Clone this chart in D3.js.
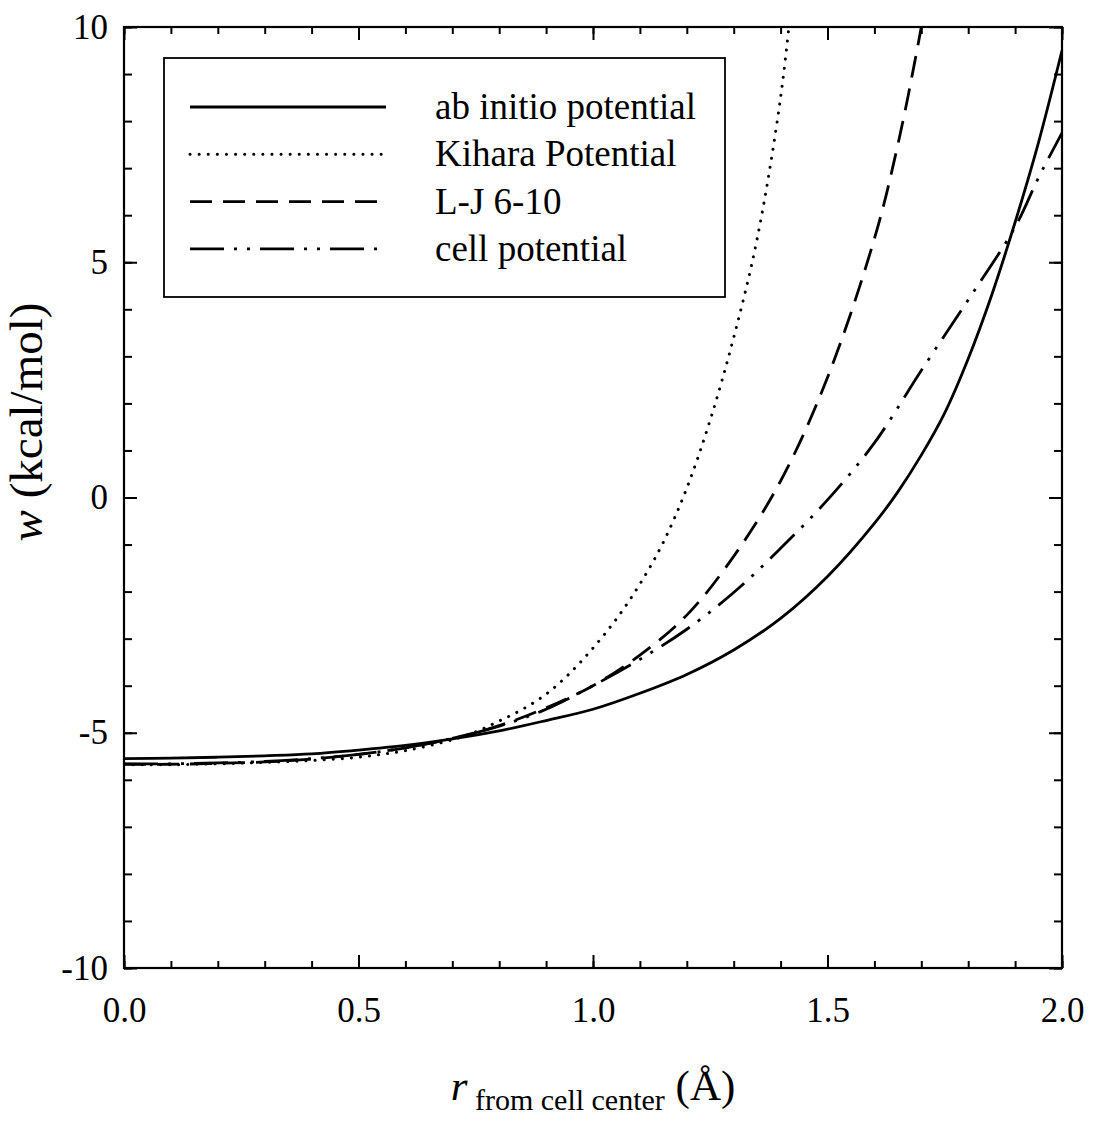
<!DOCTYPE html>
<html lang="en">
<head>
<meta charset="UTF-8">
<title>w vs r from cell center</title>
<script src="https://d3js.org/d3.v7.min.js"></script>
<style>
    body { margin: 0; background: #fff; }
    text { font-family: "Liberation Serif", "Times New Roman", serif; fill: #000; }
</style>
</head>
<body>
<svg id="chart" width="1093" height="1125"></svg>
<script>

    // ab initio potential (solid)
    const abR = [0, 0.1, 0.2, 0.3, 0.4, 0.5, 0.6, 0.7, 0.8, 0.9, 1.0, 1.1, 1.2, 1.3, 1.4, 1.5, 1.6, 1.65, 1.7, 1.75, 1.8, 1.85, 1.9, 1.95, 2.0];
    const abW = [-5.55, -5.54, -5.52, -5.49, -5.45, -5.37, -5.27, -5.13, -4.96, -4.74, -4.50, -4.16, -3.76, -3.24, -2.57, -1.68, -0.55, 0.12, 0.90, 1.80, 2.95, 4.30, 5.85, 7.55, 9.50];

    // Kihara potential (dotted)
    const kiR = [0, 0.1, 0.2, 0.3, 0.4, 0.5, 0.6, 0.7, 0.75, 0.8, 0.85, 0.9, 0.95, 1.0, 1.05, 1.1, 1.15, 1.2, 1.25, 1.3, 1.35, 1.4, 1.43];
    const kiW = [-5.68, -5.68, -5.66, -5.63, -5.59, -5.52, -5.38, -5.15, -4.98, -4.75, -4.50, -4.18, -3.74, -3.20, -2.58, -1.84, -0.95, 0.20, 1.65, 3.40, 5.50, 8.50, 11.2];

    // L-J 6-10 (dashed)
    const ljR = [0, 0.1, 0.2, 0.3, 0.4, 0.5, 0.6, 0.7, 0.8, 0.9, 1.0, 1.1, 1.2, 1.3, 1.4, 1.5, 1.6, 1.65, 1.7, 1.72];
    const ljW = [-5.67, -5.67, -5.65, -5.62, -5.56, -5.46, -5.32, -5.12, -4.85, -4.47, -4.00, -3.35, -2.50, -1.25, 0.35, 2.55, 5.50, 7.50, 10.0, 11.2];

    // cell potential (dash-dot-dot)
    const ceR = [0, 0.1, 0.2, 0.3, 0.4, 0.5, 0.6, 0.7, 0.8, 0.9, 1.0, 1.1, 1.2, 1.3, 1.4, 1.5, 1.6, 1.7, 1.8, 1.9, 1.95, 2.0];
    const ceW = [-5.66, -5.66, -5.64, -5.61, -5.55, -5.46, -5.32, -5.12, -4.86, -4.50, -4.00, -3.44, -2.80, -2.02, -1.08, -0.05, 1.16, 2.70, 4.20, 5.75, 6.80, 7.75];

    const seriesNames = ["ab initio potential", "Kihara Potential", "L-J 6-10", "cell potential"];
    const seriesDash = ["none", "0.1,9", "22,11", "34,10,3,10,3,10"];

    const xMajor = [0, 0.5, 1.0, 1.5, 2.0];
    const xMinor = d3.range(0, 2.001, 0.1);
    const yMajor = [-10, -5, 0, 5, 10];
    const yMinor = d3.range(-10, 10.001, 1);

    const svg = d3.select("#chart");
    const L = 124, R = 1062, T = 27, B = 968;

    const x = d3.scaleLinear().domain([0, 2]).range([L, R]);
    const y = d3.scaleLinear().domain([-10, 10]).range([B, T]);

    // clip
    svg.append("clipPath").attr("id", "plotclip")
        .append("rect").attr("x", L).attr("y", T).attr("width", R - L).attr("height", B - T);

    // axes, ticks pointing inward on all four sides
    function addAxis(axis, tx, ty, vals, size, fmt, pad) {
        const g = svg.append("g").attr("transform", `translate(${tx},${ty})`)
            .call(axis.tickValues(vals).tickSize(-size).tickSizeOuter(0).tickFormat(fmt).tickPadding(pad));
        g.select(".domain").remove();
        g.selectAll("line").attr("stroke", "#000").attr("stroke-width", 2);
        g.selectAll("text").attr("font-size", 35).attr("font-family", "Liberation Serif");
        return g;
    }
    const none = () => "";
    addAxis(d3.axisBottom(x), 0, B, xMinor, 7, none, 0);
    addAxis(d3.axisBottom(x), 0, B, xMajor, 13, d3.format(".1f"), 29);
    addAxis(d3.axisTop(x), 0, T, xMinor, 7, none, 0);
    addAxis(d3.axisTop(x), 0, T, xMajor, 13, none, 0);
    addAxis(d3.axisLeft(y), L, 0, yMinor, 8, none, 0);
    addAxis(d3.axisLeft(y), L, 0, yMajor, 13, d => String(d), 16);
    addAxis(d3.axisRight(y), R, 0, yMinor, 8, none, 0);
    addAxis(d3.axisRight(y), R, 0, yMajor, 13, none, 0);

    // frame
    svg.append("rect").attr("x", L).attr("y", T).attr("width", R - L).attr("height", B - T)
        .attr("fill", "none").attr("stroke", "#000").attr("stroke-width", 2.2);

    // curves
    const data = [
        d3.zip(abR, abW),
        d3.zip(kiR, kiW),
        d3.zip(ljR, ljW),
        d3.zip(ceR, ceW)
    ];
    const line = d3.line()
        .x(d => x(d[0]))
        .y(d => y(d[1]))
        .curve(d3.curveCatmullRom.alpha(0.5));

    svg.append("g").attr("clip-path", "url(#plotclip)")
        .selectAll("path")
        .data(data)
        .join("path")
        .attr("d", line)
        .attr("fill", "none")
        .attr("stroke", "#000")
        .attr("stroke-width", (d, i) => i === 1 ? 3 : 2.8)
        .attr("stroke-linecap", (d, i) => i === 1 ? "round" : "butt")
        .attr("stroke-dasharray", (d, i) => seriesDash[i]);

    // legend
    const lg = svg.append("g");
    lg.append("rect").attr("x", 164).attr("y", 58).attr("width", 561).attr("height", 239)
        .attr("fill", "#fff").attr("stroke", "#000").attr("stroke-width", 1.8);
    seriesNames.forEach((name, i) => {
        const ly = 107 + i * 47.3;
        lg.append("line").attr("x1", 190).attr("x2", 386).attr("y1", ly).attr("y2", ly)
            .attr("stroke", "#000")
            .attr("stroke-width", i === 1 ? 3 : 2.8)
            .attr("stroke-linecap", i === 1 ? "round" : "butt")
            .attr("stroke-dasharray", seriesDash[i]);
        lg.append("text").attr("x", 435).attr("y", ly + 12).attr("font-size", 37).text(name);
    });

    // axis titles
    const yt = svg.append("text")
        .attr("transform", "translate(42,422) rotate(-90)")
        .attr("text-anchor", "middle")
        .attr("font-size", 47);
    yt.append("tspan").attr("font-style", "italic").text("w");
    yt.append("tspan").text(" (kcal/mol)");

    const xt = svg.append("text")
        .attr("x", (L + R) / 2).attr("y", 1100)
        .attr("text-anchor", "middle")
        .attr("font-size", 43);
    xt.append("tspan").attr("font-style", "italic").text("r");
    xt.append("tspan").attr("font-size", 30).attr("dy", 10).text(" from cell center");
    xt.append("tspan").attr("dy", -10).text(" (Å)");

</script>
</body>
</html>
